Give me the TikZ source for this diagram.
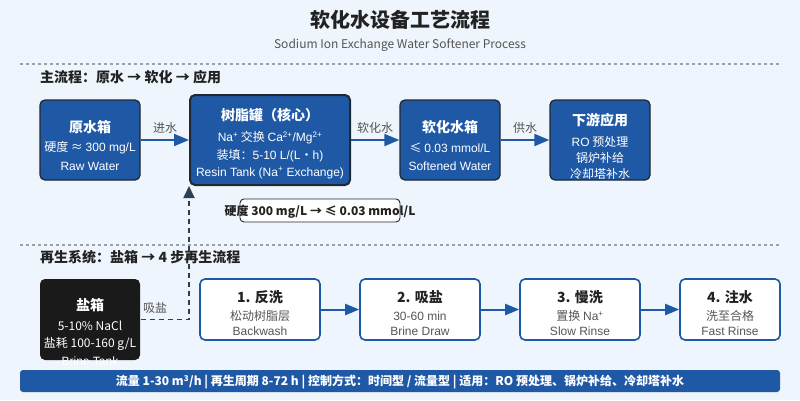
\documentclass[tikz,border=0pt]{standalone}
\usepackage{fontspec}
\setmainfont{Noto Sans CJK SC}
\newfontfamily\lat{Liberation Sans}
\usetikzlibrary{arrows.meta}
\definecolor{bgc}{HTML}{EEF5FD}
\definecolor{boxblue}{HTML}{1F59A6}
\definecolor{darkb}{HTML}{1F2833}
\definecolor{brinec}{HTML}{1A1A1A}
\definecolor{grayline}{HTML}{9AA1AB}
\definecolor{slate}{HTML}{2C3E50}
\definecolor{txt}{HTML}{222222}
\definecolor{stxt}{HTML}{555555}
\newcommand{\fs}[1]{\fontsize{#1}{#1}\selectfont}
\tikzset{
  mainbox/.style={draw=darkb, line width=1.3pt, fill=boxblue, rounded corners=5pt, minimum width=100pt, minimum height=80pt},
  stepbox/.style={draw=boxblue, line width=1.6pt, fill=white, rounded corners=5pt, minimum width=120pt, minimum height=61pt},
  bt/.style={text=white, inner sep=0pt, font=\fs{14}\bfseries},
  lt/.style={text=white, inner sep=0pt, font=\fs{12}},
  st/.style={text=stxt, inner sep=0pt, font=\fs{12}},
  stt/.style={text=txt, inner sep=0pt, font=\fs{14}\bfseries},
  flow/.style={draw=boxblue, line width=2pt, -{Triangle[length=15pt,width=12pt]}},
  sflow/.style={draw=boxblue, line width=2pt, -{Triangle[length=14pt,width=11pt]}},
  alabel/.style={text=stxt, inner sep=0pt, font=\fs{12}},
  sep/.style={draw=grayline, line width=1.5pt, dash pattern=on 3pt off 3pt},
  head/.style={text=txt, inner sep=0pt, anchor=west, font=\fs{14}\bfseries}
}
\begin{document}
\begin{tikzpicture}[x=1pt,y=-1pt]
\fill[bgc] (0,0) rectangle (800,400);
\useasboundingbox (0,0) rectangle (800,400);

% title
\node[text=txt, inner sep=0pt, font=\fs{20}\bfseries] (title) at (400,20) {软化水设备工艺流程};
\node[text=stxt, inner sep=0pt, font=\fs{12}] (subtitle) at (400,45) {Sodium Ion Exchange Water Softener Process};

\coordinate (l1a) at (20,64); \coordinate (l1b) at (780,64);
\draw[sep] (l1a) -- (l1b);
\node[head] (h1) at (40,77) {主流程：原水 → 软化 → 应用};

% main boxes
\node[mainbox] (raw) at (90,140) {};
\node[mainbox, line width=2pt, minimum width=160pt, minimum height=90pt] (resin) at (270,140) {};
\node[mainbox] (soft) at (450,140) {};
\node[mainbox] (down) at (600,140) {};

\node[bt] (rawt) at (90,127) {原水箱};
\node[lt] (raw1) at (90,148) {硬度 ≈ {\lat 300 mg/L}};
\node[lt] (raw2) at (90,166) {\lat Raw Water};

\node[bt] (resint) at (270,115) {树脂罐（核心）};
\node[lt] (resin1) at (270,138) {{\lat Na\textsuperscript{+}} 交换 {\lat Ca\textsuperscript{2+}/Mg\textsuperscript{2+}}};
\node[lt] (resin2) at (270,156) {装填：{\lat 5-10 L/(L}・{\lat h)}};
\node[lt] (resin3) at (270,173) {\lat Resin Tank (Na\textsuperscript{+} Exchange)};

\node[bt] (softt) at (450,127) {软化水箱};
\node[lt] (soft1) at (450,148) {≤ {\lat 0.03 mmol/L}};
\node[lt] (soft2) at (450,166) {\lat Softened Water};

\node[bt] (downt) at (600,120) {下游应用};
\node[lt] (down1) at (600,142) {{\lat RO} 预处理};
\node[lt] (down2) at (600,158) {锅炉补给};
\node[lt] (down3) at (600,174) {冷却塔补水};

\draw[flow] (raw) -- (resin);
\draw[flow] (resin) -- (soft);
\draw[flow] (soft) -- (down);
\node[alabel] (la1) at (165,128) {进水};
\node[alabel] (la2) at (375,128) {软化水};
\node[alabel] (la3) at (525,128) {供水};

% hardness label
\node[draw=darkb, line width=0.9pt, fill=white, rounded corners=4pt, minimum width=160pt, minimum height=23pt, inner sep=0pt] (hard) at (320,210.5) {};
\node[text=txt, inner sep=0pt, font=\fs{12}\bfseries] (hardt) at (320,212) {硬度 300 mg/L → ≤ 0.03 mmol/L};

% regeneration
\coordinate (l2a) at (20,245); \coordinate (l2b) at (780,245);
\draw[sep] (l2a) -- (l2b);
\node[head] (h2) at (40,257) {再生系统：盐箱 → 4 步再生流程};

\node[mainbox, draw=none, fill=brinec, minimum height=81pt] (brine) at (90,319.5) {};
\node[bt] (brinet) at (90,305) {盐箱};
\node[lt] (brine1) at (90,326) {5-10\% NaCl};
\node[lt] (brine2) at (90,344) {盐耗 100-160 g/L};
\node[lt] (brine3) at (90,361) {\lat Brine Tank};

\draw[draw=slate, line width=1.8pt, dash pattern=on 5pt off 4pt, -{Triangle[length=12pt,width=11pt]}] (brine.east) -| (resin.south west);
\node[alabel] (lsalt) at (155,308) {吸盐};

\node[stepbox] (s1) at (260,309.5) {};
\node[stepbox] (s2) at (420,309.5) {};
\node[stepbox] (s3) at (580,309.5) {};
\node[stepbox, minimum width=100pt] (s4) at (730,309.5) {};

\node[stt] (s1t) at (260,297) {1. 反洗};
\node[st] (s1a) at (260,316) {松动树脂层};
\node[st] (s1b) at (260,331) {\lat Backwash};
\node[stt] (s2t) at (420,297) {2. 吸盐};
\node[st] (s2a) at (420,316) {\lat 30-60 min};
\node[st] (s2b) at (420,331) {\lat Brine Draw};
\node[stt] (s3t) at (580,297) {3. 慢洗};
\node[st] (s3a) at (580,316) {置换 {\lat Na\textsuperscript{+}}};
\node[st] (s3b) at (580,331) {\lat Slow Rinse};
\node[stt] (s4t) at (730,297) {4. 注水};
\node[st] (s4a) at (730,316) {洗至合格};
\node[st] (s4b) at (730,331) {\lat Fast Rinse};

\draw[sflow] (s1) -- (s2);
\draw[sflow] (s2) -- (s3);
\draw[sflow] (s3) -- (s4);

% bottom bar
\node[fill=boxblue, rounded corners=3pt, minimum width=760pt, minimum height=22pt, inner sep=0pt] (bar) at (400,381) {};
\node[text=white, inner sep=0pt, font=\fs{12}\bfseries] (bart) at (400,382) {流量 1-30 m\textsuperscript{3}/h | 再生周期 8-72 h | 控制方式：时间型 / 流量型 | 适用：RO 预处理、锅炉补给、冷却塔补水};
\end{tikzpicture}
\end{document}
